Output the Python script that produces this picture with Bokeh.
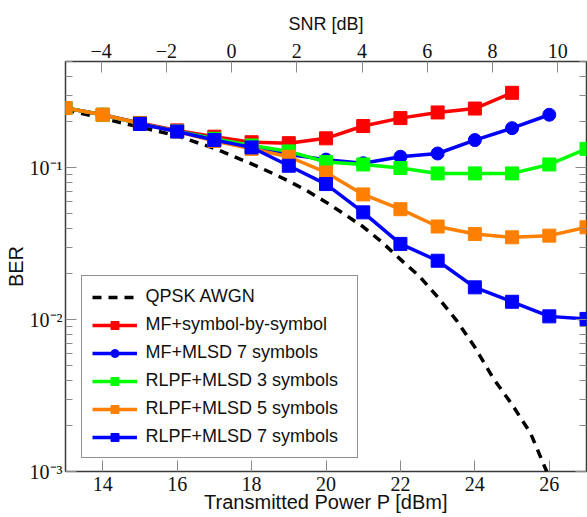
from bokeh.plotting import figure
from bokeh.models import (Range1d, LinearAxis, LogAxis, FixedTicker, Legend,
                          LegendItem)
from bokeh.embed import file_html
from bokeh.resources import INLINE

# ---- data ----
qpsk_power = [13, 14, 15, 16, 17, 17.5, 18, 18.5, 19, 19.5, 20, 20.5, 21, 21.5,
              22, 22.5, 23, 23.5, 24, 24.5, 25, 25.5, 25.93]
qpsk_ber = [0.241, 0.211, 0.185, 0.162, 0.134, 0.119, 0.106, 0.0933, 0.0815,
            0.0703, 0.0593, 0.0493, 0.0408, 0.0324, 0.0249, 0.0194, 0.0141,
            0.00993, 0.00658, 0.00409, 0.00276, 0.00178, 0.00100]

mf_sbs_power = [13, 14, 15, 16, 17, 18, 19, 20, 21, 22, 23, 24, 25]
mf_sbs_ber = [0.247, 0.223, 0.197, 0.176, 0.160, 0.147, 0.145, 0.156, 0.188,
              0.212, 0.231, 0.245, 0.311]

mf_mlsd7_power = [13, 14, 15, 16, 17, 18, 19, 20, 21, 22, 23, 24, 25, 26]
mf_mlsd7_ber = [0.247, 0.223, 0.195, 0.174, 0.155, 0.138, 0.122, 0.113, 0.107,
                0.118, 0.124, 0.152, 0.182, 0.223]

rlpf3_power = [13, 14, 15, 16, 17, 18, 19, 20, 21, 22, 23, 24, 25, 26, 27]
rlpf3_ber = [0.247, 0.223, 0.195, 0.174, 0.155, 0.140, 0.128, 0.109, 0.105,
             0.0995, 0.0917, 0.0917, 0.0917, 0.105, 0.133]

rlpf5_power = [13, 14, 15, 16, 17, 18, 19, 20, 21, 22, 23, 24, 25, 26, 27]
rlpf5_ber = [0.247, 0.223, 0.195, 0.173, 0.150, 0.133, 0.118, 0.093, 0.0667,
             0.0533, 0.041, 0.0366, 0.0348, 0.0357, 0.0405]

rlpf7_power = [15, 16, 17, 18, 19, 20, 21, 22, 23, 24, 25, 26, 27]
rlpf7_ber = [0.194, 0.173, 0.152, 0.136, 0.103, 0.078, 0.0508, 0.0315, 0.0244,
             0.0163, 0.0131, 0.0105, 0.0101]

x_ticks = [14, 16, 18, 20, 22, 24, 26]
snr_ticks = [-4, -2, 0, 2, 4, 6, 8, 10]
y_ticks = [0.001, 0.01, 0.1]
y_tick_labels = ["10\u207b\u00b3", "10\u207b\u00b2", "10\u207b\u00b9"]
y_minor = [k * d for d in (0.001, 0.01, 0.1) for k in range(2, 10) if k * d <= 0.5]

legend_labels = ["QPSK AWGN", "MF+symbol-by-symbol", "MF+MLSD 7 symbols",
                 "RLPF+MLSD 3 symbols", "RLPF+MLSD 5 symbols", "RLPF+MLSD 7 symbols"]

SERIF = "Liberation Serif"
SANS = "Liberation Sans"
TICK_COLOR = "#8a8a8a"
TXT = "#111111"

p = figure(width=587, height=517, x_range=Range1d(13, 27),
           y_range=Range1d(0.001, 0.5), y_axis_type="log",
           output_backend="svg", toolbar_location=None,
           min_border_left=65, min_border_right=1, min_border_top=61,
           min_border_bottom=46)
p.xgrid.visible = False
p.ygrid.visible = False
p.outline_line_color = "#3a3a3a"
p.outline_line_width = 1.5
p.background_fill_color = "white"
p.border_fill_color = "white"

p.extra_x_ranges = {"snr": Range1d(-5.09, 10.88)}


def style_axis(ax, minor=False):
    ax.axis_line_color = None
    ax.major_tick_in = 11
    ax.major_tick_out = 0
    ax.major_tick_line_color = TICK_COLOR
    ax.major_tick_line_width = 1
    if minor:
        ax.minor_tick_in = 7
        ax.minor_tick_out = 0
        ax.minor_tick_line_color = TICK_COLOR
        ax.minor_tick_line_width = 1
    else:
        ax.minor_tick_line_color = None
    ax.major_label_text_font = SERIF
    ax.major_label_text_font_size = "20px"
    ax.major_label_text_color = TXT
    ax.axis_label_text_font = SANS
    ax.axis_label_text_font_style = "normal"
    ax.axis_label_text_color = TXT


xa = p.xaxis[0]
xa.ticker = FixedTicker(ticks=x_ticks)
style_axis(xa)
xa.major_label_standoff = 5
xa.axis_label = "Transmitted Power P [dBm]"
xa.axis_label_text_font_size = "20px"
xa.axis_label_standoff = -3

ya = p.yaxis[0]
ya.ticker = FixedTicker(ticks=y_ticks, minor_ticks=y_minor)
ya.major_label_overrides = {t: l for t, l in zip(y_ticks, y_tick_labels)}
style_axis(ya, minor=True)
ya.major_label_standoff = 3
ya.axis_label = "BER"
ya.axis_label_text_font_size = "20px"
ya.axis_label_standoff = 0

top = LinearAxis(x_range_name="snr",
                 ticker=FixedTicker(ticks=snr_ticks))
top.major_label_overrides = {t: (str(t).replace("-", "\u2212")) for t in snr_ticks}
style_axis(top)
top.major_label_standoff = 4
top.axis_label = "SNR [dB]"
top.axis_label_text_font_size = "18px"
top.axis_label_standoff = 7
p.add_layout(top, "above")

right = LogAxis(ticker=FixedTicker(ticks=y_ticks, minor_ticks=y_minor))
style_axis(right, minor=True)
right.major_label_overrides = {t: "" for t in y_ticks}
right.major_label_standoff = 0
right.major_label_text_font_size = "0px"
p.add_layout(right, "right")

# ---- series ----
LW = 3.5
MS = 13
items = []

r = p.line(qpsk_power, qpsk_ber, line_color="black", line_width=LW,
           line_dash="9 7")
items.append(LegendItem(label=legend_labels[0], renderers=[r]))

series = [
    (mf_sbs_power, mf_sbs_ber, "#ff0000", "square"),
    (mf_mlsd7_power, mf_mlsd7_ber, "#0000ff", "circle"),
    (rlpf3_power, rlpf3_ber, "#00ff00", "square"),
    (rlpf5_power, rlpf5_ber, "#ff8000", "square"),
    (rlpf7_power, rlpf7_ber, "#0000ff", "square"),
]
for (xs, ys, col, mk), lab in zip(series, legend_labels[1:]):
    l = p.line(xs, ys, line_color=col, line_width=LW)
    s = p.scatter(xs, ys, marker=mk, size=MS, fill_color=col, line_color=col)
    items.append(LegendItem(label=lab, renderers=[l, s]))

legend = Legend(items=items, location=(15.5, 13))
legend.label_text_font = SANS
legend.label_text_font_size = "18px"
legend.label_text_color = TXT
legend.glyph_width = 45
legend.glyph_height = 20
legend.label_height = 20
legend.label_width = 201
legend.spacing = 7
legend.padding = 10
legend.margin = 0
legend.label_standoff = 9
legend.border_line_color = "#222222"
legend.border_line_width = 1
legend.background_fill_color = "white"
legend.background_fill_alpha = 1
p.add_layout(legend)

open("out.html", "w").write(file_html(p, INLINE))
